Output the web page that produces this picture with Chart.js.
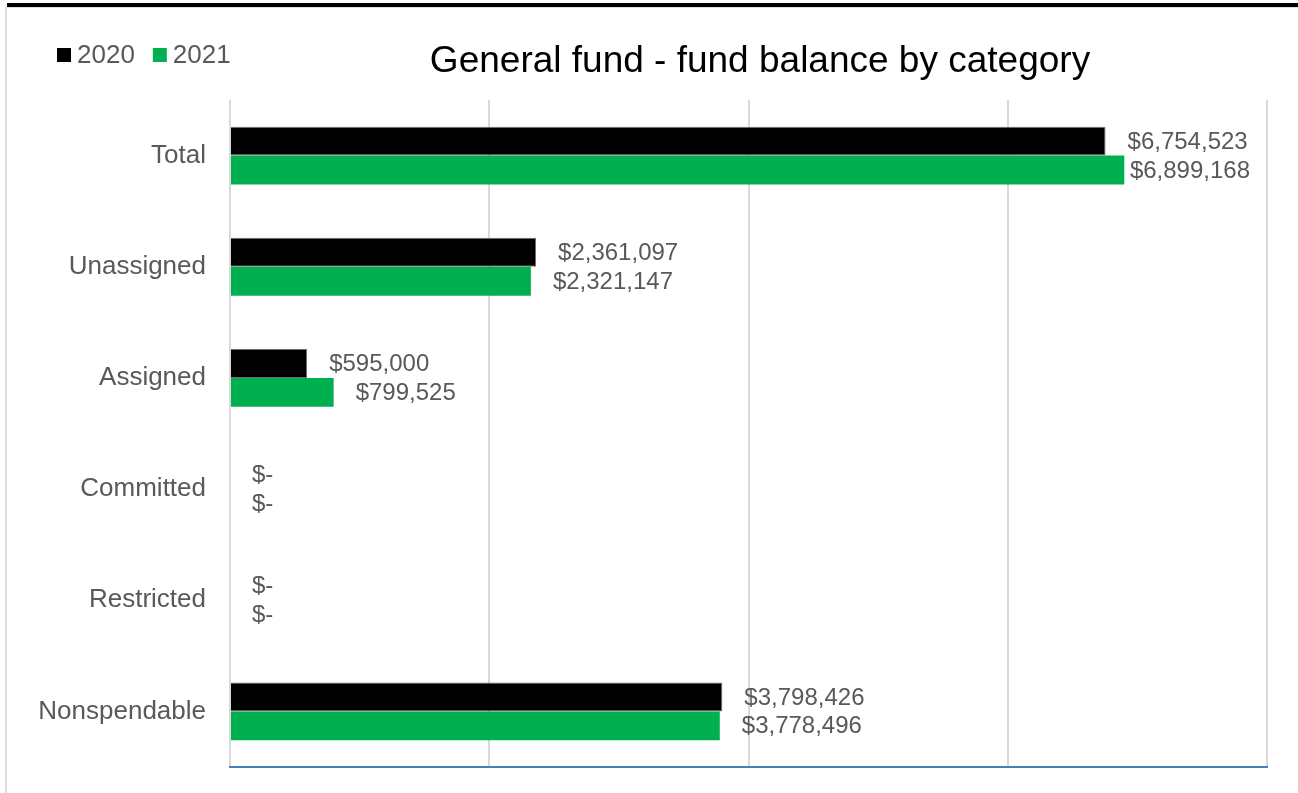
<!DOCTYPE html>
<html>
<head>
<meta charset="utf-8">
<title>General fund - fund balance by category</title>
<script src="https://cdn.jsdelivr.net/npm/chart.js@4/dist/chart.umd.min.js"></script>
<style>
  html, body { margin: 0; padding: 0; background: #fff; }
  #wrap { position: relative; width: 1298px; height: 793px; }
</style>
</head>
<body>
<div id="wrap"><canvas id="fund-chart" width="1298" height="793"></canvas></div>
<script>
const categories = ['Total', 'Unassigned', 'Assigned', 'Committed', 'Restricted', 'Nonspendable'];
const years = ['2020', '2021'];
const values2020 = [6754523, 2361097, 595000, 0, 0, 3798426];
const values2021 = [6899168, 2321147, 799525, 0, 0, 3778496];
const colors = ['#000000', '#00b050'];

const FONT = '"Liberation Sans", Arial, sans-serif';
const GREY = '#595959';

function money(v) {
  return v === 0 ? '$-' : '$' + v.toLocaleString('en-US');
}

// frame, title and legend around the plot
const decorations = {
  id: 'decorations',
  beforeDraw(chart) {
    const ctx = chart.ctx;
    ctx.save();
    ctx.fillStyle = '#fff';
    ctx.fillRect(0, 0, chart.width, chart.height);
    ctx.fillStyle = '#000';
    ctx.fillRect(7, 3, chart.width - 7, 4);
    ctx.fillStyle = '#dedede';
    ctx.fillRect(5, 7, 2, chart.height - 7);
    ctx.fillRect(7, 7, chart.width - 7, 1);
    ctx.restore();
  },
  afterDraw(chart) {
    const ctx = chart.ctx;
    ctx.save();
    ctx.textBaseline = 'middle';
    ctx.fillStyle = '#000';
    ctx.font = '37px ' + FONT;
    ctx.textAlign = 'center';
    ctx.fillText('General fund - fund balance by category', 760, 62);

    ctx.font = '26px ' + FONT;
    ctx.textAlign = 'left';
    let x = 57;
    chart.data.datasets.forEach(ds => {
      ctx.fillStyle = ds.backgroundColor;
      ctx.fillRect(x, 48, 14, 14);
      ctx.fillStyle = GREY;
      ctx.fillText(ds.label, x + 20, 56);
      x += 20 + ctx.measureText(ds.label).width + 18;
    });
    ctx.restore();
  }
};

// value labels at the end of each bar, kept inside the plot area
const valueLabels = {
  id: 'valueLabels',
  afterDatasetsDraw(chart) {
    const ctx = chart.ctx;
    const right = chart.chartArea.right - 17;
    ctx.save();
    ctx.font = '24px ' + FONT;
    ctx.fillStyle = GREY;
    ctx.textAlign = 'left';
    ctx.textBaseline = 'middle';
    chart.data.datasets.forEach((ds, i) => {
      chart.getDatasetMeta(i).data.forEach((bar, j) => {
        const text = money(ds.data[j]);
        const w = ctx.measureText(text).width;
        const x = Math.min(bar.x + 22, right - w);
        ctx.fillText(text, x, bar.y + 1);
      });
    });
    ctx.restore();
  }
};

new Chart(document.getElementById('fund-chart'), {
  type: 'bar',
  data: {
    labels: categories,
    datasets: [
      { label: years[0], data: values2020, backgroundColor: colors[0], borderColor: '#6f6f6f', borderWidth: 1 },
      { label: years[1], data: values2021, backgroundColor: colors[1], borderWidth: 0 }
    ]
  },
  options: {
    indexAxis: 'y',
    responsive: false,
    animation: false,
    categoryPercentage: 0.52,
    barPercentage: 1,
    layout: { padding: { left: 0, top: 100, right: 31, bottom: 26 } },
    plugins: {
      legend: { display: false },
      title: { display: false },
      tooltip: { enabled: false }
    },
    scales: {
      x: {
        min: 0,
        max: 8000000,
        ticks: { display: false, stepSize: 2000000 },
        grid: { color: '#d9d9d9', lineWidth: 2, drawTicks: false },
        border: { display: true, color: '#4a7ebb', width: 2 },
        afterFit(scale) { scale.height = 0; }
      },
      y: {
        ticks: { color: GREY, font: { family: FONT, size: 26 }, padding: 24 },
        grid: { display: false, drawTicks: false },
        border: { display: false },
        afterFit(scale) {
          scale.width = 230;
          scale.paddingTop = 0;
          scale.paddingBottom = 0;
        }
      }
    }
  },
  plugins: [decorations, valueLabels]
});
</script>
</body>
</html>
